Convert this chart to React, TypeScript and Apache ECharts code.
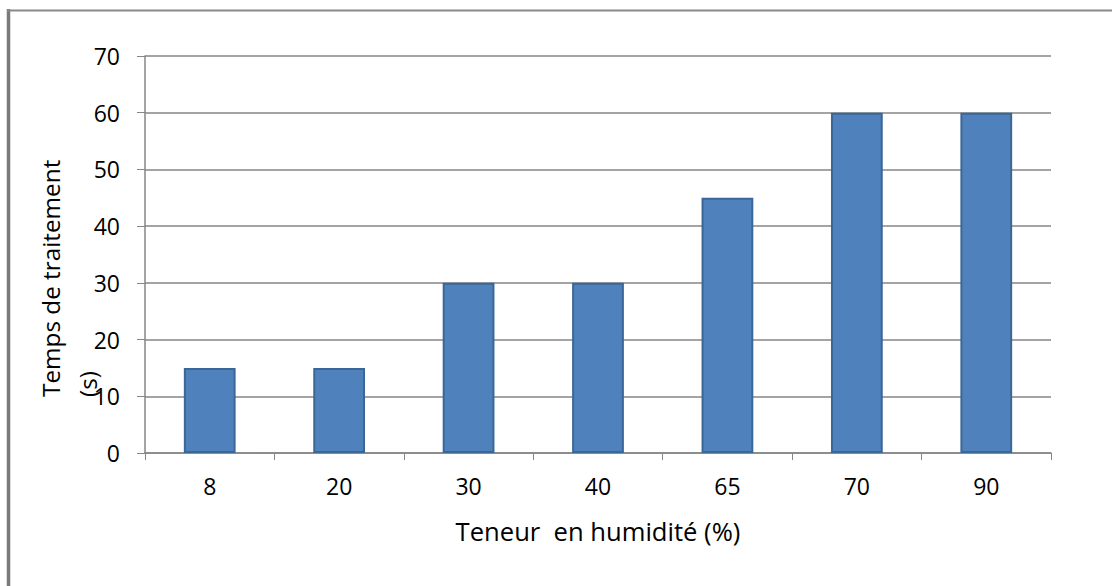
import React, { useEffect, useRef } from "react";
import * as echarts from "echarts";

const categories = ["8", "20", "30", "40", "65", "70", "90"];
const values = [15, 15, 30, 30, 45, 60, 60];
const xTitle = "Teneur  en humidité (%)";
const yTitleLine1 = "Temps de traitement";
const yTitleLine2 = "(s)";

const FONT = "'Open Sans', 'Noto Sans', sans-serif";
const GRAY = "#868686";

export default function App() {
  const ref = useRef<HTMLDivElement>(null);
  useEffect(() => {
    const chart = echarts.init(ref.current!, null, { renderer: "svg" });
    chart.setOption({
      animation: false,
      backgroundColor: "#ffffff",
      textStyle: { fontFamily: FONT },
      grid: { left: 145, right: 61, top: 56, bottom: 133 },
      xAxis: {
        type: "category",
        data: categories,
        boundaryGap: true,
        name: xTitle,
        nameLocation: "middle",
        nameGap: 65,
        nameTextStyle: { fontSize: 25.6, color: "#000", fontFamily: FONT },
        axisLine: { show: true, lineStyle: { color: GRAY, width: 1.5 } },
        axisTick: { show: true, length: 7, alignWithLabel: false, lineStyle: { color: GRAY } },
        axisLabel: { fontSize: 23, color: "#000", margin: 21, fontFamily: FONT },
        splitLine: { show: false },
      },
      yAxis: {
        type: "value",
        min: 0,
        max: 70,
        interval: 10,
        axisLine: { show: true, lineStyle: { color: GRAY, width: 1.5 } },
        axisTick: { show: true, length: 8, lineStyle: { color: GRAY } },
        axisLabel: { fontSize: 23, color: "#000", margin: 25, fontFamily: FONT },
        splitLine: { show: true, lineStyle: { color: GRAY, width: 1.5 } },
      },
      series: [
        {
          type: "bar",
          data: values,
          barWidth: "40%",
          itemStyle: { color: "#4F81BD", borderColor: "#3A6796", borderWidth: 2 },
        },
      ],
      graphic: [
        {
          type: "line",
          shape: { x1: 8.5, y1: 9, x2: 8.5, y2: 586 },
          style: { stroke: "#7a7a7a", lineWidth: 3.5 },
          silent: true,
        },
        {
          type: "line",
          shape: { x1: 7, y1: 10.5, x2: 1112, y2: 10.5 },
          style: { stroke: "#8a8a8a", lineWidth: 2 },
          silent: true,
        },
        {
          type: "text",
          x: 50,
          y: 397,
          rotation: Math.PI / 2,
          style: {
            text: yTitleLine1,
            fontSize: 24.3,
            fontFamily: FONT,
            fill: "#000",
            textAlign: "left",
            textVerticalAlign: "middle",
          },
        },
        {
          type: "text",
          x: 87,
          y: 397,
          rotation: Math.PI / 2,
          style: {
            text: yTitleLine2,
            fontSize: 24.3,
            fontFamily: FONT,
            fill: "#000",
            textAlign: "left",
            textVerticalAlign: "middle",
          },
        },
      ],
    });
    return () => chart.dispose();
  }, []);
  return (
    <div
      ref={ref}
      style={{ position: "fixed", left: 0, top: 0, width: 1112, height: 586 }}
    />
  );
}
